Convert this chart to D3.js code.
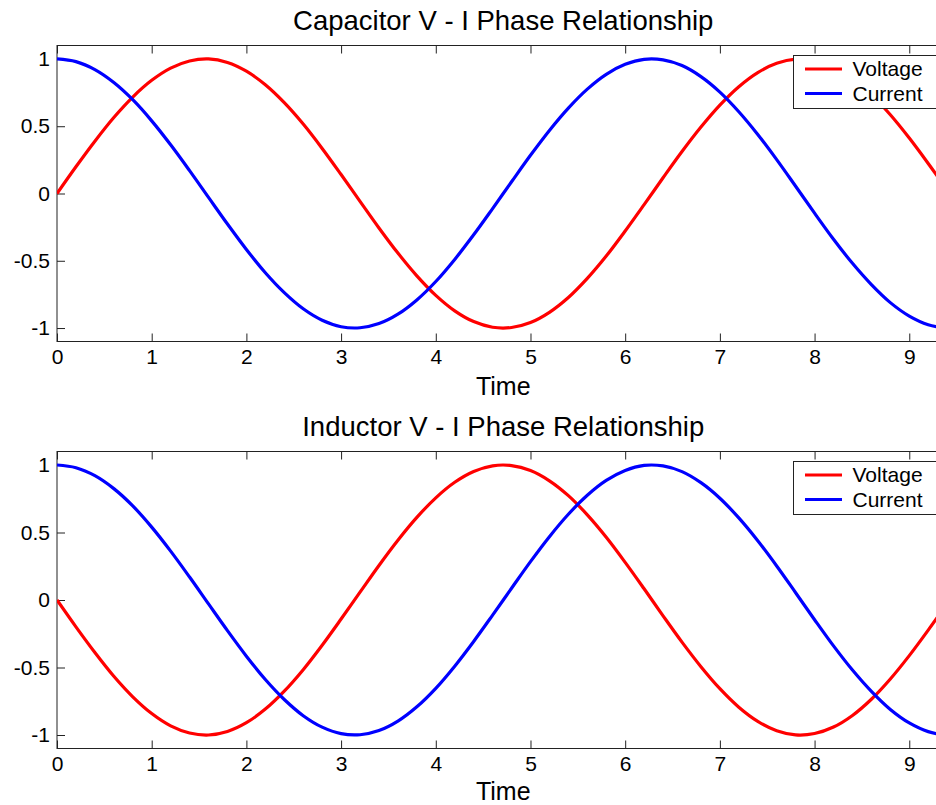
<!DOCTYPE html>
<html>
<head>
<meta charset="utf-8">
<script src="https://cdnjs.cloudflare.com/ajax/libs/d3/7.8.5/d3.min.js"></script>
<style>
  html, body { margin: 0; padding: 0; background: #fff; overflow: hidden; }
  svg { display: block; font-family: "Liberation Sans", Arial, sans-serif; }
</style>
</head>
<body>
<svg id="chart" width="936" height="805"></svg>
<script>
// ---- data ----
const time = [0,0.2,0.4,0.6,0.8,1.0,1.2,1.4,1.6,1.8,2.0,2.2,2.4,2.6,2.8,3.0,3.2,3.4,3.6,3.8,4.0,4.2,4.4,4.6,4.8,5.0,5.2,5.4,5.6,5.8,6.0,6.2,6.4,6.6,6.8,7.0,7.2,7.4,7.6,7.8,8.0,8.2,8.4,8.6,8.8,9.0,9.2,9.4,9.42];
const capacitorVoltage = [0,0.199,0.389,0.565,0.717,0.841,0.932,0.985,1.0,0.974,0.909,0.808,0.675,0.516,0.335,0.141,-0.058,-0.256,-0.443,-0.612,-0.757,-0.872,-0.952,-0.994,-0.996,-0.959,-0.883,-0.773,-0.631,-0.465,-0.279,-0.083,0.117,0.312,0.494,0.657,0.794,0.899,0.968,0.999,0.989,0.941,0.855,0.735,0.585,0.412,0.223,0.025,0];
const capacitorCurrent = [1,0.980,0.921,0.825,0.697,0.540,0.362,0.170,-0.029,-0.227,-0.416,-0.589,-0.737,-0.857,-0.942,-0.990,-0.998,-0.967,-0.897,-0.791,-0.654,-0.490,-0.307,-0.112,0.087,0.284,0.469,0.635,0.776,0.886,0.960,0.997,0.993,0.951,0.869,0.754,0.608,0.439,0.252,0.054,-0.146,-0.340,-0.519,-0.677,-0.811,-0.911,-0.975,-1.0,-1.0];
const inductorVoltage = [0,-0.199,-0.389,-0.565,-0.717,-0.841,-0.932,-0.985,-1.0,-0.974,-0.909,-0.808,-0.675,-0.516,-0.335,-0.141,0.058,0.256,0.443,0.612,0.757,0.872,0.952,0.994,0.996,0.959,0.883,0.773,0.631,0.465,0.279,0.083,-0.117,-0.312,-0.494,-0.657,-0.794,-0.899,-0.968,-0.999,-0.989,-0.941,-0.855,-0.735,-0.585,-0.412,-0.223,-0.025,0];
const inductorCurrent = [1,0.980,0.921,0.825,0.697,0.540,0.362,0.170,-0.029,-0.227,-0.416,-0.589,-0.737,-0.857,-0.942,-0.990,-0.998,-0.967,-0.897,-0.791,-0.654,-0.490,-0.307,-0.112,0.087,0.284,0.469,0.635,0.776,0.886,0.960,0.997,0.993,0.951,0.869,0.754,0.608,0.439,0.252,0.054,-0.146,-0.340,-0.519,-0.677,-0.811,-0.911,-0.975,-1.0,-1.0];
const xTicks = [0,1,2,3,4,5,6,7,8,9];
const yTicks = [-1,-0.5,0,0.5,1];
const yTickLabels = ["-1","-0.5","0","0.5","1"];
const seriesNames = ["Voltage","Current"];
const seriesColors = ["#ff0000","#0000ff"];
const titles = ["Capacitor V - I Phase Relationship","Inductor V - I Phase Relationship"];
const xLabel = "Time";

// ---- drawing ----
const svg = d3.select("#chart");
const panels = [
  {title: titles[0], v: capacitorVoltage, c: capacitorCurrent, top: 45.5, bottom: 341.5, labelY: 395},
  {title: titles[1], v: inductorVoltage, c: inductorCurrent, top: 451.5, bottom: 748.5, labelY: 800}
];
const left = 57, right = 949.5;
const x = d3.scaleLinear().domain([0, 9.4248]).range([left, right]);
const axisColor = "#222";

panels.forEach((p, i) => {
  const y = d3.scaleLinear().domain([-1.1, 1.1]).range([p.bottom, p.top]);
  const g = svg.append("g");
  const clipId = "clip" + i;
  svg.append("clipPath").attr("id", clipId).append("rect")
    .attr("x", left).attr("y", p.top).attr("width", right - left).attr("height", p.bottom - p.top);

  // axes box lines
  g.append("rect").attr("x", left).attr("y", p.top).attr("width", right - left).attr("height", p.bottom - p.top)
    .attr("fill", "none").attr("stroke", axisColor).attr("stroke-width", 1);

  // bottom axis (ticks inward)
  const xb = d3.axisBottom(x).tickValues(xTicks).tickSizeInner(-8).tickSizeOuter(0).tickPadding(14).tickFormat(d3.format("d"));
  const gxb = g.append("g").attr("transform", `translate(0,${p.bottom})`).call(xb);
  // top axis ticks
  const xt = d3.axisTop(x).tickValues(xTicks).tickSizeInner(-8).tickSizeOuter(0).tickFormat("");
  const gxt = g.append("g").attr("transform", `translate(0,${p.top})`).call(xt);
  // left axis
  const yl = d3.axisLeft(y).tickValues(yTicks).tickSizeInner(-8).tickSizeOuter(0).tickPadding(7)
    .tickFormat((d, k) => yTickLabels[k]);
  const gyl = g.append("g").attr("transform", `translate(${left},0)`).call(yl);

  [gxb, gxt, gyl].forEach(a => {
    a.select(".domain").remove();
    a.selectAll(".tick line").attr("stroke", axisColor);
    a.selectAll(".tick text").attr("fill", "#000").attr("font-size", 21)
      .attr("font-family", "Liberation Sans, Arial, sans-serif");
  });
  gxb.selectAll(".tick text").attr("dy", "0.71em").attr("y", 8);

  // lines
  const line = d3.line().x((d, k) => x(time[k])).y(d => y(d)).curve(d3.curveCatmullRom);
  const lg = g.append("g").attr("clip-path", `url(#${clipId})`);
  lg.append("path").datum(p.v).attr("d", line).attr("fill", "none").attr("stroke", seriesColors[0]).attr("stroke-width", 3.2);
  lg.append("path").datum(p.c).attr("d", line).attr("fill", "none").attr("stroke", seriesColors[1]).attr("stroke-width", 3.2);

  // title
  g.append("text").attr("x", (left + right) / 2).attr("y", p.top - 16).attr("text-anchor", "middle")
    .attr("font-size", 27.5).attr("fill", "#000").text(p.title);
  // x label
  g.append("text").attr("x", (left + right) / 2).attr("y", p.labelY).attr("text-anchor", "middle")
    .attr("font-size", 25).attr("fill", "#000").text(xLabel);

  // legend
  const lgx = 793.5, lgy = p.top + 10;
  const leg = g.append("g");
  leg.append("rect").attr("x", lgx).attr("y", lgy).attr("width", 200).attr("height", 53)
    .attr("fill", "#fff").attr("stroke", axisColor).attr("stroke-width", 1);
  seriesNames.forEach((name, k) => {
    const cy = lgy + 13.5 + k * 24.5;
    leg.append("line").attr("x1", lgx + 11.5).attr("x2", lgx + 48.5).attr("y1", cy).attr("y2", cy)
      .attr("stroke", seriesColors[k]).attr("stroke-width", 3.2);
    leg.append("text").attr("x", lgx + 59).attr("y", cy).attr("dy", "0.35em")
      .attr("font-size", 21).attr("fill", "#000").text(name);
  });
});
</script>
</body>
</html>
